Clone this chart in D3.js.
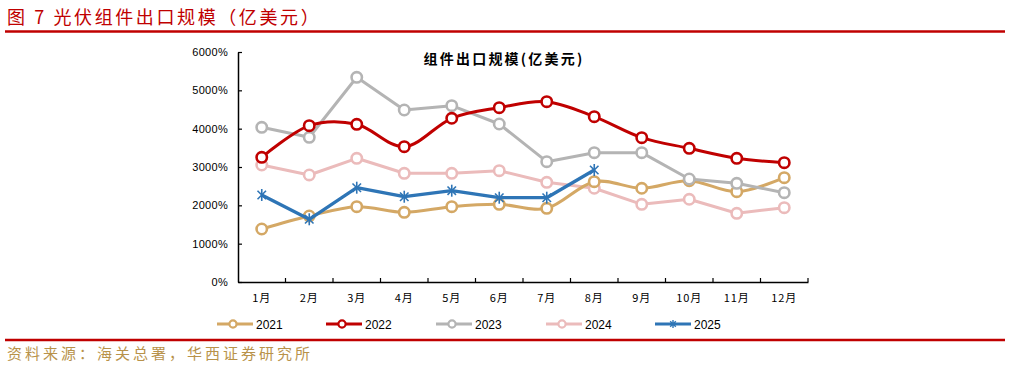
<!DOCTYPE html>
<html><head><meta charset="utf-8">
<script src="https://cdn.jsdelivr.net/npm/d3@7"></script>
<style>body{margin:0;background:#fff}svg{display:block}</style>
</head><body><svg id="c" width="1010" height="366"></svg>
<script>
const months = ["1月","2月","3月","4月","5月","6月","7月","8月","9月","10月","11月","12月"];
const yTicks = [0,1000,2000,3000,4000,5000,6000];
const s2021 = [1383,1722,1965,1818,1965,2027,1923,2617,2445,2643,2356,2721];
const s2022 = [3253,4078,4114,3530,4271,4548,4704,4313,3765,3488,3227,3113];
const s2023 = [4036,3775,5340,4487,4600,4122,3139,3374,3374,2687,2575,2330];
const s2024 = [3052,2792,3227,2836,2836,2904,2601,2445,2027,2158,1792,1938];
const s2025 = [2270,1636,2460,2225,2382,2199,2199,2922];
const seriesNames = ["2021","2022","2023","2024","2025"];
const colors = ["#D4A865","#C00000","#B4B4B4","#EBBBBB","#2E75B6"];
const smooth = [true,true,false,false,false];

const svg = d3.select("#c");
const cjk = "'Noto Sans CJK SC', sans-serif";
const latin = "'Liberation Sans', Arial, sans-serif";

// header
svg.append("text").attr("x",7).attr("y",24).attr("fill","#C00000")
  .attr("font-family",cjk).attr("font-size",18).attr("letter-spacing",2.6)
  .text("图 7 光伏组件出口规模（亿美元）");
svg.append("line").attr("x1",5).attr("x2",1005).attr("y1",31.5).attr("y2",31.5)
  .attr("stroke","#C00000").attr("stroke-width",2.5);
svg.append("line").attr("x1",5).attr("x2",1005).attr("y1",340).attr("y2",340)
  .attr("stroke","#C00000").attr("stroke-width",2.5);
svg.append("text").attr("x",7).attr("y",359).attr("fill","#B8924A")
  .attr("font-family",cjk).attr("font-size",15).attr("letter-spacing",3)
  .text("资料来源：海关总署，华西证券研究所");

// chart title
svg.append("text").attr("x",504).attr("y",64).attr("text-anchor","middle")
  .attr("font-family",cjk).attr("font-size",14).attr("font-weight","bold").attr("fill","#000")
  .attr("letter-spacing",2.2).text("组件出口规模(亿美元)");

const x = d3.scaleBand().domain(months).range([238,808]);
const y = d3.scaleLinear().domain([0,6000]).range([282,52]);

// y axis
const ya = svg.append("g").attr("transform","translate(238,0)")
  .call(d3.axisLeft(y).tickValues(yTicks).tickFormat(d=>d+"%").tickSizeInner(-4).tickSizeOuter(0).tickPadding(10));
ya.selectAll("text").attr("font-family",latin).attr("font-size",11).attr("fill","#000").attr("letter-spacing",0.3);
ya.select(".domain").attr("stroke","#000").attr("stroke-width",1.5);
ya.selectAll(".tick line").attr("stroke","#000").attr("stroke-width",1.2);

// x axis
const xa = svg.append("g").attr("transform","translate(0,282)")
  .call(d3.axisBottom(x).tickSize(0).tickPadding(12));
xa.selectAll("text").attr("font-family",cjk).attr("font-size",11).attr("fill","#000").attr("letter-spacing",1);
xa.select(".domain").attr("stroke","#000").attr("stroke-width",1.5);
const bounds = months.map(m=>x(m)+x.bandwidth());
xa.selectAll(".bt").data(bounds).enter().append("line").attr("class","bt")
  .attr("x1",d=>d).attr("x2",d=>d).attr("y1",0).attr("y2",-4)
  .attr("stroke","#000").attr("stroke-width",1.2);

const allSeries = [s2021,s2022,s2023,s2024,s2025];
const cx = i => x(months[i]) + x.bandwidth()/2;
const lineSmooth = d3.line().x((d,i)=>cx(i)).y(d=>y(d)).curve(d3.curveCardinal.tension(0));
const lineStraight = d3.line().x((d,i)=>cx(i)).y(d=>y(d));

function star(g, px, py, r, color, w){
  [90,45,135].forEach(deg=>{
    const a = deg*Math.PI/180;
    g.append("line").attr("x1",px+r*Math.cos(a)).attr("y1",py+r*Math.sin(a))
      .attr("x2",px-r*Math.cos(a)).attr("y2",py-r*Math.sin(a))
      .attr("stroke",color).attr("stroke-width",w);
  });
}

const order = [3,0,2,1,4];
order.forEach(si=>{
  const data = allSeries[si], col = colors[si];
  const g = svg.append("g");
  g.append("path").datum(data).attr("d",smooth[si]?lineSmooth:lineStraight).attr("fill","none")
    .attr("stroke",col).attr("stroke-width",si===4?3.3:3).attr("stroke-linejoin","round");
  data.forEach((v,i)=>{
    if(si===4) star(g, cx(i), y(v), 6, col, 1.6);
    else g.append("circle").attr("cx",cx(i)).attr("cy",y(v)).attr("r",5.2)
      .attr("fill","#fff").attr("stroke",col).attr("stroke-width",2.6);
  });
});

// legend
const legX = [217,326,436,546,655];
seriesNames.forEach((n,i)=>{
  const g = svg.append("g");
  const lx = legX[i], ly = 324;
  g.append("line").attr("x1",lx).attr("x2",lx+36).attr("y1",ly).attr("y2",ly)
    .attr("stroke",colors[i]).attr("stroke-width",3);
  if(i===4) star(g, lx+18, ly, 4, colors[i], 1.4);
  else g.append("circle").attr("cx",lx+16).attr("cy",ly).attr("r",3.6)
    .attr("fill","#fff").attr("stroke",colors[i]).attr("stroke-width",2.2);
  g.append("text").attr("x",lx+39).attr("y",ly+4.5).attr("font-family",latin)
    .attr("font-size",12).attr("fill","#000").text(n);
});
</script></body></html>
